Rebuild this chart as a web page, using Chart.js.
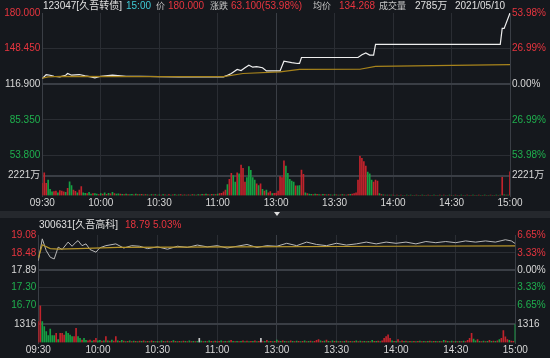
<!DOCTYPE html>
<html><head><meta charset="utf-8">
<script src="https://cdn.jsdelivr.net/npm/chart.js@4"></script>
<style>
body{margin:0;background:#15181d;width:550px;height:358px;overflow:hidden;position:relative;font-family:"Liberation Sans","Noto Sans CJK SC",sans-serif;}
canvas{position:absolute;left:0;top:0;}
.t{position:absolute;font-size:10px;white-space:nowrap;line-height:12px;color:#c8c8c8;}
.k{font-size:9px;}
.r{color:#e8353f}.w{color:#e0e0e0}.c{color:#3fc9d5}
#band{position:absolute;left:0;top:211px;width:550px;height:7px;background:#25282d;}
#tri{position:absolute;left:274px;top:212px;width:0;height:0;border-left:3px solid transparent;border-right:3px solid transparent;border-top:4px solid #e0e0e0;}
</style></head><body>
<div id="band"></div><div id="tri"></div>
<canvas id="c1" width="550" height="358"></canvas>
<canvas id="c2" width="550" height="358"></canvas>
<canvas id="c3" width="550" height="358"></canvas>
<canvas id="c4" width="550" height="358"></canvas>
<div class="t w" style="left:43px;top:0">123047[久吾转债]</div>
<div class="t c" style="left:126px;top:0">15:00</div>
<div class="t k" style="left:156px;top:0">价</div>
<div class="t r" style="left:168px;top:0">180.000</div>
<div class="t k" style="left:210px;top:0">涨跌</div>
<div class="t r" style="left:231px;top:0">63.100(53.98%)</div>
<div class="t k" style="left:313px;top:0">均价</div>
<div class="t r" style="left:339px;top:0">134.268</div>
<div class="t k" style="left:379px;top:0">成交量</div>
<div class="t w" style="left:415px;top:0">2785万</div>
<div class="t w" style="left:455px;top:0">2021/05/10</div>
<div class="t w" style="left:39px;top:219px">300631[久吾高科]</div>
<div class="t r" style="left:125px;top:219px">18.79</div>
<div class="t r" style="left:153px;top:219px">5.03%</div>
<script>
// ---- shared time axis (minute index, 0 = 09:30, 120 = 13:00, 240 = 15:00)
const timeTickIdx = [0,30,60,90,120,150,180,210,240];
const timeLabels = ['09:30','10:00','10:30','11:00','13:00','13:30','14:00','14:30','15:00'];

// ---- 123047 久吾转债
const bondTicks = [180, 148.45, 116.9, 85.35, 53.8];
const bondTickLabels = ['180.000','148.450','116.900','85.350','53.800'];
const bondPctLabels = ['53.98%','26.99%','0.00%','26.99%','53.98%'];
const bondTickTone = ['up','up','flat','down','down'];
const bondPriceIdx = [0,2,4,6,9,12,13,15,19,22,25,27,30,36,43,50,60,70,80,93,95,97,100,102,104,106,108,110,113,115,122,124,128,131,132,133,162,164,166,168,170,171,235,236,237,240];
const bondPrice    = [122.0,125.5,124.9,124.0,123.4,124.9,126.4,124.9,125.5,124.3,123.4,122.6,124.0,124.9,124.0,124.0,123.7,123.5,123.4,123.5,124.8,126.4,130.0,129.0,131.5,133.8,132.0,132.5,131.5,128.7,128.7,137.3,136.0,135.3,135.3,140.6,140.6,143.0,144.7,142.7,142.7,152.2,152.2,166.4,166.4,180.0];
const bondAvgIdx = [0,3,10,50,93,103,122,132,163,171,240];
const bondAvg    = [122.3,123.5,123.8,123.7,123.6,126.4,127.9,130.0,130.2,132.7,134.27];
const bondVolMax = 4442;
const bondVolTicks = [2221];
const bondVolLabels = ['2221万'];
const bondVol = [
/*  0*/ 1350,2530,1350,1720,690,420,440,500,300,560,
/* 10*/ 500,400,350,800,1530,1100,600,450,300,600,
/* 20*/ 1000,300,250,200,350,150,200,200,150,100,
/* 30*/ 220,150,300,120,250,180,350,200,150,180,
/* 40*/ 150,120,100,150,90,110,130,80,150,100,
/* 50*/ 90,120,70,110,80,60,100,70,90,60,
/* 60*/ 80,60,100,70,50,90,60,80,100,60,
/* 70*/ 70,90,60,80,50,70,60,90,70,60,
/* 80*/ 100,80,120,90,150,100,80,130,90,110,
/* 90*/ 150,200,240,420,600,1200,1800,2460,2200,1500,
/*100*/ 2530,2400,3385,3020,1500,2000,3200,2800,2000,1700,
/*110*/ 1300,1100,1300,690,500,600,300,430,200,240,
/*120*/ 260,500,2090,2000,3860,3270,2460,1800,1600,1500,
/*130*/ 1060,1060,1100,2830,2350,300,200,150,120,100,
/*140*/ 150,120,100,80,120,90,70,100,80,60,
/*150*/ 90,70,60,80,100,70,60,90,120,150,
/*160*/ 200,300,1720,4380,4130,3770,3270,2600,2400,1720,
/*170*/ 1500,1720,1600,200,100,80,60,50,40,60,
/*180*/ 40,30,50,20,40,30,20,40,30,50,
/*190*/ 30,20,40,30,20,40,30,20,40,30,
/*200*/ 20,40,30,20,40,30,50,20,30,40,
/*210*/ 30,20,40,30,20,40,30,20,40,30,
/*220*/ 20,40,30,20,40,30,20,40,30,20,
/*230*/ 40,30,20,40,30,60,2020,80,50,60,
/*240*/ 2640];
const bondDir =
/*  0*/ 'rrrgggrrgr'+'rrgrggrrgr'+'rggrggrggr'+'grgrgrgrgg'+
/* 40*/ 'rgrgrggrgr'+'grgrgrgrgr'+'grgrgrgrgr'+'grgrgrgrgr'+
/* 80*/ 'grgrgrgrgr'+'grrrrgrrgg'+'rgrrrggggg'+'rgrgrgrrgr'+
/*120*/ 'rrrrrggggg'+'rggrrgrggr'+'grgrgrgrgr'+'grgrgrgrgr'+
/*160*/ 'rrrrrrrggg'+'rrrgrgrgrg'+'rgrgrgrgrg'+'rgrgrgrgrg'+
/*200*/ 'rgrgrgrgrg'+'rgrgrgrgrg'+'rgrgrgrgrg'+'rgrgrgrgrg'+
/*240*/ 'r';

// ---- 300631 久吾高科
const stockTicks = [19.08, 18.48, 17.89, 17.30, 16.70];
const stockTickLabels = ['19.08','18.48','17.89','17.30','16.70'];
const stockPctLabels = ['6.65%','3.33%','0.00%','3.33%','6.65%'];
const stockTickTone = ['up','up','flat','down','down'];
const stockPriceIdx = [0,2,4,6,8,10,12,15,17,19,20,22,24,26,29,31,34,39,43,47,51,55,60,65,70,75,80,85,90,95,100,105,110,115,120,125,130,135,140,145,150,155,160,165,170,175,180,185,190,195,200,205,210,215,220,225,230,235,238,240];
const stockPrice    = [18.21,18.95,18.55,18.33,18.27,18.67,18.59,18.84,18.70,18.84,18.89,18.72,18.78,18.59,18.50,18.65,18.72,18.78,18.64,18.72,18.70,18.62,18.68,18.60,18.70,18.66,18.74,18.68,18.72,18.64,18.70,18.76,18.66,18.72,18.70,18.80,18.72,18.84,18.76,18.72,18.80,18.74,18.78,18.84,18.78,18.84,18.80,18.84,18.78,18.86,18.82,18.86,18.82,18.88,18.84,18.88,18.84,18.92,18.88,18.79];
const stockAvgIdx = [0,2,6,10,20,40,100,180,240];
const stockAvg    = [18.30,18.75,18.62,18.60,18.62,18.66,18.68,18.70,18.71];
const stockVolMax = 2632;
const stockVolTicks = [1316];
const stockVolLabels = ['1316'];
const stockVol = [
/*  0*/ 1480,2620,1480,1125,770,500,950,500,500,650,
/* 10*/ 200,650,650,530,770,650,530,415,415,1000,
/* 20*/ 415,300,180,300,150,120,180,100,150,300,
/* 30*/ 120,150,100,120,415,120,100,180,100,415,
/* 40*/ 120,80,150,100,60,90,120,70,100,80,
/* 50*/ 60,100,80,120,70,90,60,110,80,70,
/* 60*/ 90,60,120,80,70,100,60,90,140,80,
/* 70*/ 60,90,70,100,80,60,120,70,90,60,
/* 80*/ 80,290,100,70,90,60,110,80,70,100,
/* 90*/ 60,80,120,70,90,60,100,150,80,70,
/*100*/ 90,60,80,120,70,100,60,90,80,120,
/*110*/ 70,90,290,60,80,150,70,90,60,80,
/*120*/ 170,100,80,120,90,70,60,110,80,70,
/*130*/ 100,80,60,90,120,70,80,100,60,90,
/*140*/ 150,200,120,80,100,180,90,70,120,80,
/*150*/ 100,70,90,60,80,110,70,90,60,80,
/*160*/ 120,70,100,60,90,70,80,60,150,90,
/*170*/ 80,100,60,120,300,415,540,300,120,80,
/*180*/ 90,200,60,120,80,100,60,90,70,80,
/*190*/ 60,80,100,70,90,60,80,100,70,90,
/*200*/ 80,60,90,70,150,120,80,60,100,70,
/*210*/ 90,60,80,70,100,60,150,300,660,250,
/*220*/ 120,200,90,70,100,60,80,150,90,100,
/*230*/ 80,120,200,300,850,400,200,150,100,80,
/*240*/ 1270];
const stockDir =
/*  0*/ 'rrgggggggr'+'grrrggggrr'+'ggrggrrgrr'+'ggrgrgrgrr'+
/* 40*/ 'grgrgrgrgr'+'grgrgrgrgr'+'grgrgrgrgr'+'grgrgrgrgr'+
/* 80*/ 'gwgrgrgrgr'+'grgrgrgrgr'+'grgrgrgrgr'+'grwrgrgrgr'+
/*120*/ 'grgrgrgrgr'+'grgrgrgrgr'+'rrgrgrgrgr'+'grgrgrgrgr'+
/*160*/ 'grgrgrgrgr'+'grgrrrrrgr'+'grgrgrgrgr'+'grgrgrgrgr'+
/*200*/ 'grgrgrgrgr'+'grgrgrrrrg'+'grgrgrgrgr'+'grgrrrrgrr'+
/*240*/ 'g';

// ---- styling
const BG_GRID = '#2a2d33', MID_GRID = '#3a3e45', BORDER = '#3a3e45';
const UP = '#e8353f', DOWN = '#1fb04e', FLAT = '#d8d8d8';
const BAR_UP = '#c2232c', BAR_DOWN = '#16a043', BAR_FLAT = '#c8c8c8';
const FONT = {family:'"Liberation Sans","Noto Sans CJK SC",sans-serif', size:10};
const toneColor = t => t==='up'?UP:(t==='down'?DOWN:FLAT);
const pts = (xs, ys) => xs.map((x,i)=>({x, y:ys[i]}));

function xScale(showLabels, height){
  return {type:'linear', min:0, max:240, position:'bottom', offset:false,
    afterBuildTicks: s => { s.ticks = timeTickIdx.map(v=>({value:v})); },
    afterFit: s => { s.height = height; s.paddingLeft = 0; s.paddingRight = 0; },
    ticks:{display:showLabels, autoSkip:false, maxRotation:0, minRotation:0, padding:2, color:FLAT, font:FONT,
      callback:(v,i)=>timeLabels[i]},
    grid:{offset:false, drawTicks:false, color: c => (c.tick && c.tick.value===120) ? MID_GRID : BG_GRID},
    border:{display:false}};
}
function yScale(pos, width, min, max, ticks, labels, tones, showGrid){
  return {type:'linear', position:pos, min, max,
    afterBuildTicks: s => { s.ticks = ticks.map(v=>({value:v})); },
    afterFit: s => { s.width = width; s.paddingTop = 0; s.paddingBottom = 0; },
    ticks:{autoSkip:false, padding:2, font:FONT, callback:(v,i)=>labels[i],
      color: c => toneColor(tones[c.index])},
    grid:{display:showGrid, drawTicks:false,
      color: c => (c.tick && c.tick.value===max) ? 'rgba(0,0,0,0)' : ((tones[c.index]==='flat')? MID_GRID : BG_GRID),
      lineWidth: c => (tones[c.index]==='flat') ? 2 : 1},
    border:{display:true, color:BORDER}};
}
function baseOpts(padTop, padBottom, scales){
  return {animation:false, responsive:false, devicePixelRatio:1,
    layout:{padding:{top:padTop, bottom:padBottom, left:0, right:0}},
    plugins:{legend:{display:false}, tooltip:{enabled:false}},
    scales};
}
const dirColor = d => d==='r'?BAR_UP:(d==='g'?BAR_DOWN:BAR_FLAT);

// top price
new Chart(document.getElementById('c1'), {type:'line',
  data:{datasets:[
    {data:pts(bondAvgIdx,bondAvg), borderColor:'#a8841c', borderWidth:1.2, pointRadius:0, tension:0},
    {data:pts(bondPriceIdx,bondPrice), borderColor:'#eeeeee', borderWidth:1.2, pointRadius:0, tension:0}
  ]},
  options: baseOpts(13, 358-155.5, {
    x: xScale(false, 0),
    y: yScale('left', 42.3, 53.8, 180, bondTicks, bondTickLabels, bondTickTone, true),
    y2: yScale('right', 40, 53.8, 180, bondTicks, bondPctLabels, bondTickTone, false)
  })
});
// top volume
const bondVolIdx = bondVol.map((v,i)=>i);
new Chart(document.getElementById('c2'), {type:'bar',
  data:{datasets:[{data:pts(bondVolIdx,bondVol), barThickness:1, backgroundColor:bondVol.map((v,i)=>dirColor(bondDir[i]))}]},
  options: baseOpts(155.5, 358-195.5-12, {
    x: xScale(true, 12),
    y: yScale('left', 42.3, 0, bondVolMax, bondVolTicks, bondVolLabels, ['flat'], true),
    y2: yScale('right', 40, 0, bondVolMax, bondVolTicks, bondVolLabels, ['flat'], false)
  })
});
// bottom price
new Chart(document.getElementById('c3'), {type:'line',
  data:{datasets:[
    {data:pts(stockAvgIdx,stockAvg), borderColor:'#b8962a', borderWidth:1.2, pointRadius:0, tension:0},
    {data:pts(stockPriceIdx,stockPrice), borderColor:'#b8b8b8', borderWidth:1, pointRadius:0, tension:0}
  ]},
  options: baseOpts(235, 358-305.5, {
    x: xScale(false, 0),
    y: yScale('left', 38.3, 16.70, 19.08, stockTicks, stockTickLabels, stockTickTone, true),
    y2: yScale('right', 34.7, 16.70, 19.08, stockTicks, stockPctLabels, stockTickTone, false)
  })
});
// bottom volume
const stockVolIdx = stockVol.map((v,i)=>i);
new Chart(document.getElementById('c4'), {type:'bar',
  data:{datasets:[{data:pts(stockVolIdx,stockVol), barThickness:1, backgroundColor:stockVol.map((v,i)=>dirColor(stockDir[i]))}]},
  options: baseOpts(305.5, 358-342.5-12, {
    x: xScale(true, 12),
    y: yScale('left', 38.3, 0, stockVolMax, stockVolTicks, stockVolLabels, ['flat'], true),
    y2: yScale('right', 34.7, 0, stockVolMax, stockVolTicks, stockVolLabels, ['flat'], false)
  })
});
</script>
</body></html>
